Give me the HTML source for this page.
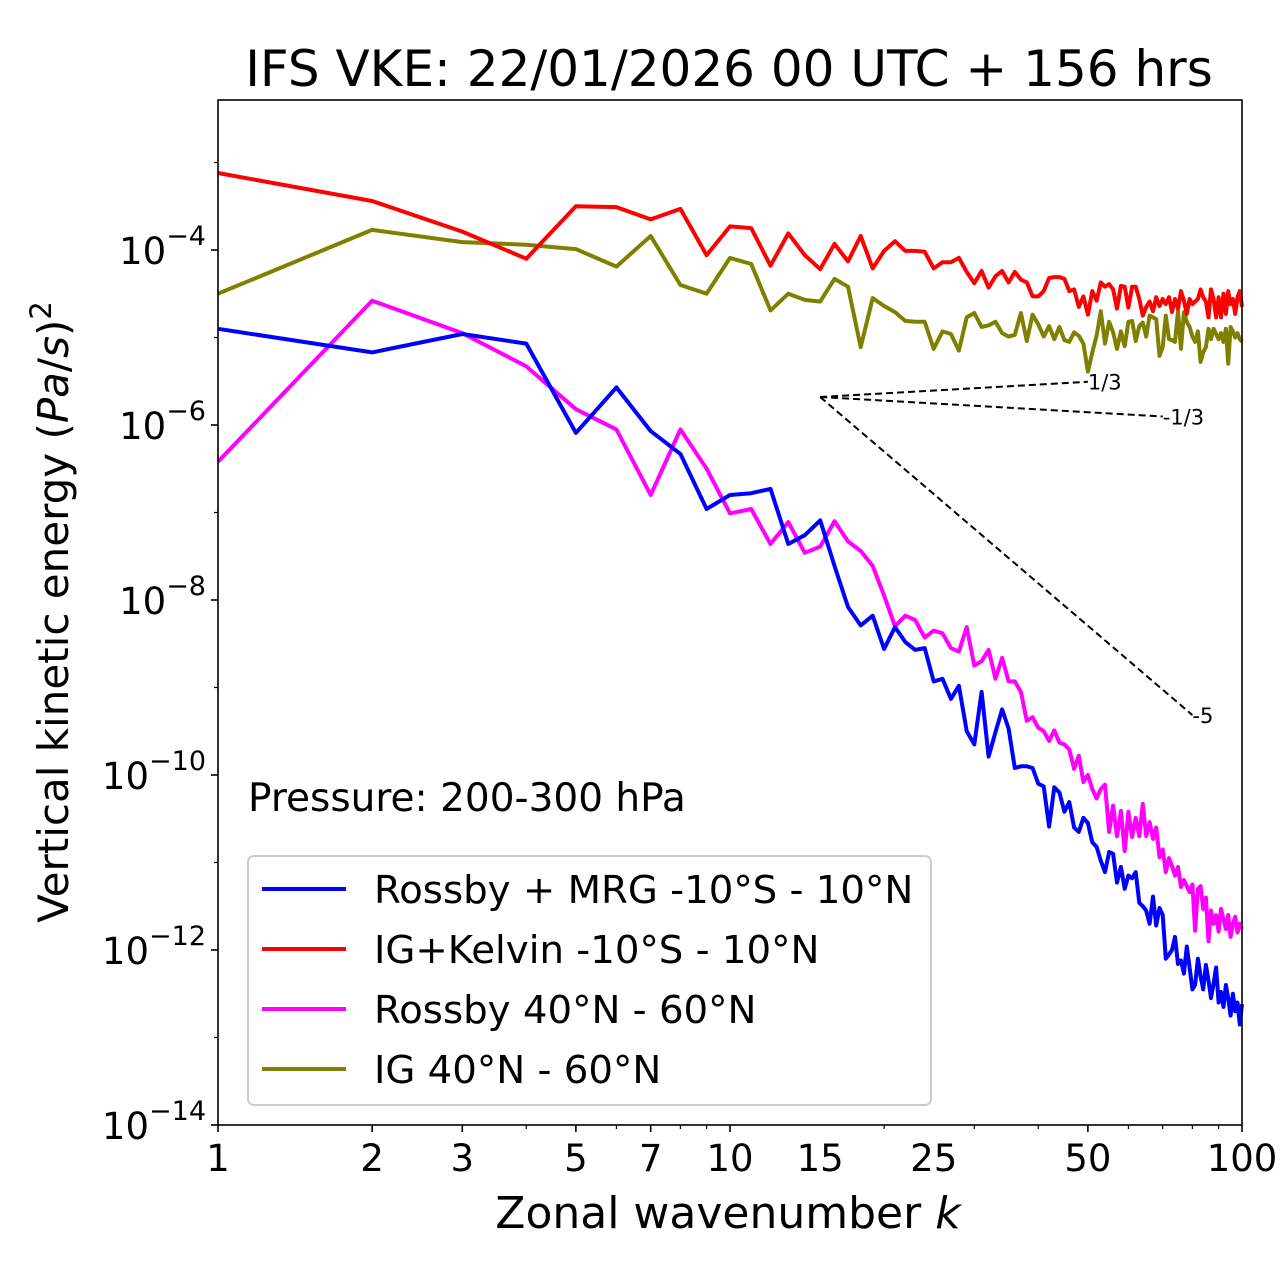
<!DOCTYPE html>
<html><head><meta charset="utf-8"><style>
html,body{margin:0;padding:0;background:#fff;}
svg{display:block;font-family:"DejaVu Sans","Liberation Sans",sans-serif;}
</style></head><body>
<svg id="chart" width="1280" height="1288" viewBox="0 0 1280 1288" xmlns="http://www.w3.org/2000/svg">
<text x="729" y="86" font-size="50" text-anchor="middle">IFS VKE: 22/01/2026 00 UTC + 156 hrs</text>
<g id="ticks"></g>
<g id="series"></g>
<g id="reflines"></g>
<rect x="218" y="100" width="1024" height="1025" fill="none" stroke="#000" stroke-width="1.6"/>
<text x="728" y="1228" font-size="44" text-anchor="middle">Zonal wavenumber <tspan font-style="italic">k</tspan></text>
<text transform="translate(68,612) rotate(-90)" font-size="42" text-anchor="middle">Vertical kinetic energy (<tspan font-style="italic">Pa</tspan>/<tspan font-style="italic">s</tspan>)<tspan dy="-17" font-size="29">2</tspan></text>
<text x="248" y="811" font-size="39">Pressure: 200-300 hPa</text>
<g>
<rect x="248" y="856" width="683" height="249" rx="6" fill="#fff" fill-opacity="0.8" stroke="#ccc" stroke-width="2"/>
<line x1="262" y1="889" x2="346" y2="889" stroke="#0000ff" stroke-width="4"/>
<text x="374" y="903" font-size="38.7">Rossby + MRG -10°S - 10°N</text>
<line x1="262" y1="949" x2="346" y2="949" stroke="#ff0000" stroke-width="4"/>
<text x="374" y="963" font-size="38.7">IG+Kelvin -10°S - 10°N</text>
<line x1="262" y1="1009" x2="346" y2="1009" stroke="#ff00ff" stroke-width="4"/>
<text x="374" y="1023" font-size="38.7">Rossby 40°N - 60°N</text>
<line x1="262" y1="1069" x2="346" y2="1069" stroke="#808000" stroke-width="4"/>
<text x="374" y="1083" font-size="38.7">IG 40°N - 60°N</text>
</g>
</svg>
<script>
// log10 of vertical kinetic energy, k = 1..100
const redLog = [-3.12,-3.44,-3.79,-4.10,-3.50,-3.51,-3.65,-3.53,-4.06,-3.73,-3.75,-4.18,-3.81,-4.06,-4.22,
-3.93,-4.13,-3.84,-4.21,-4.01,-3.90,-4.01,-4.01,-4.02,-4.21,-4.14,-4.14,-4.09,-4.25,-4.38,-4.24,-4.43,-4.30,-4.24,-4.37,-4.25,-4.34,-4.37,-4.53,-4.53,-4.47,-4.32,-4.31,-4.31,-4.33,-4.47,-4.45,-4.65,-4.53,-4.74,-4.47,-4.58,-4.37,-4.42,-4.39,-4.45,-4.67,-4.41,-4.42,-4.66,-4.42,-4.42,-4.56,-4.75,-4.65,-4.59,-4.70,-4.54,-4.64,-4.56,
-4.62,-4.54,-4.71,-4.56,-4.67,-4.47,-4.58,-4.73,-4.56,-4.62,-4.59,-4.56,-4.45,-4.54,-4.59,-4.77,-4.45,-4.56,-4.77,-4.54,-4.77,-4.50,-4.73,-4.47,-4.62,-4.56,-4.73,-4.54,-4.47,-4.65];
const oliveLog = [-4.50,-3.77,-3.91,-3.94,-3.99,-4.19,-3.84,-4.40,-4.50,-4.09,-4.16,-4.69,-4.50,-4.57,-4.59,
-4.33,-4.42,-5.11,-4.55,-4.64,-4.71,-4.81,-4.82,-4.82,-5.13,-4.93,-4.96,-5.15,-4.77,-4.72,-4.88,-4.86,-4.82,-4.95,-4.99,-4.97,-4.72,-5.04,-4.74,-4.85,-4.99,-4.87,-5.02,-4.88,-5.03,-5.05,-4.94,-4.98,-5.07,-5.39,-5.17,-4.98,-4.70,-5.07,-4.82,-4.94,-5.13,-4.93,-5.10,-4.82,-4.81,-5.04,-4.87,-4.83,-4.99,-4.75,-4.77,-4.79,-5.21,-5.11,-4.75,-5.02,-5.03,-5.05,-4.70,-5.13,-4.71,-4.82,-4.88,-4.99,-5.05,-4.93,-5.28,-5.17,-5.11,-4.90,-5.02,-4.90,-4.96,-5.02,
-4.95,-5.05,-4.90,-5.30,-4.88,-4.93,-5.00,-4.95,-5.02,-5.05];
const blueLog = [-4.90,-5.17,-4.96,-5.07,-6.09,-5.57,-6.07,-6.33,-6.96,-6.80,-6.78,-6.73,-7.36,-7.26,-7.09,
-7.61,-8.08,-8.29,-8.18,-8.56,-8.31,-8.48,-8.57,-8.55,-8.93,-8.90,-9.13,-8.98,-9.50,-9.65,-9.05,-9.79,-9.51,-9.25,-9.47,-9.92,-9.90,-9.90,-9.92,-10.10,-10.13,-10.59,-10.14,-10.20,-10.42,-10.31,-10.60,-10.65,-10.49,
-10.55,-10.77,-10.82,-10.98,-11.11,-10.88,-10.90,-11.23,-11.05,-11.30,-11.15,-11.18,-11.11,-11.46,-11.50,-11.55,-11.70,-11.39,-11.72,-11.52,-11.60,-12.10,-12.05,-12.00,-11.85,-12.16,-12.12,-12.27,-11.96,-12.20,-12.45,-12.40,-12.10,-12.30,-12.45,-12.17,-12.35,-12.55,-12.38,-12.20,-12.60,-12.48,-12.65,-12.40,-12.55,-12.75,-12.50,-12.70,-12.60,-12.85,-12.62];
const magentaLog = [-6.42,-4.58,-4.95,-5.33,-5.82,-6.05,-6.80,-6.05,-6.50,-7.01,-6.96,-7.36,-7.11,-7.46,-7.39,
-7.10,-7.33,-7.44,-7.61,-7.95,-8.30,-8.18,-8.23,-8.43,-8.35,-8.38,-8.55,-8.59,-8.31,-8.75,-8.70,-8.57,-8.90,-8.66,-8.93,-8.93,-9.05,-9.38,-9.34,-9.46,-9.50,-9.61,-9.49,-9.63,-9.65,-9.71,-9.93,-9.78,-10.08,-10.00,
-10.16,-10.27,-10.16,-10.11,-10.65,-10.35,-10.70,-10.41,-10.87,-10.42,-10.71,-10.49,-10.70,-10.33,-10.70,-10.54,-10.73,-10.60,-10.94,-10.85,-11.11,-10.95,-11.04,-11.15,-11.05,-11.28,-11.20,-11.27,-11.34,-11.25,-11.78,-11.30,-11.27,-11.53,-11.40,-11.90,-11.55,-11.70,-11.60,-11.79,-11.53,-11.65,-11.76,-11.60,-11.85,-11.70,-11.62,-11.80,-11.70,-11.76];
const xTickLabels = [1,2,3,5,7,10,15,25,50,100];
const yTickExps = [-4,-6,-8,-10,-12,-14];
const refK0 = 15;
const refLog0 = -5.68;
const refSlopes = [1/3, -1/3, -5];
const refKEnd = [50, 70, 80];
const refLabels = ["1/3", "-1/3", "-5"];

const NS = "http://www.w3.org/2000/svg";
const X0 = 218, XW = 1024, YTOP = 100, YBOT = 1125;
const LMAX = -14 + (YBOT - YTOP) / 87.5;
function xs(k){ return X0 + Math.log10(k) / 2 * XW; }
function ys(l){ return YTOP + (LMAX - l) * 87.5; }
function mk(tag, attrs, parent){ const e = document.createElementNS(NS, tag); for (const a in attrs) e.setAttribute(a, attrs[a]); parent.appendChild(e); return e; }

const ticks = document.getElementById('ticks');
for (let k = 1; k <= 100; k++) {
  const d = Math.floor(Math.log10(k + 1e-9)); const m = k / Math.pow(10, d);
  if (Number.isInteger(m) || k === 100) {
    const major = xTickLabels.includes(k);
    const t = mk('line', {x1: xs(k), x2: xs(k), y1: YBOT, y2: YBOT + (major ? 7 : 4), stroke: '#000', 'stroke-width': major ? 1.6 : 1.2}, ticks);
    
    
  }
}
xTickLabels.forEach(k => {
  const t = mk('text', {x: xs(k), y: YBOT + 46, 'font-size': 37, 'text-anchor': 'middle'}, ticks);
  t.textContent = k;
  
  
});
for (let e = -14; e <= -3; e++) {
  const major = yTickExps.includes(e);
  const t = mk('line', {x1: X0 - (major ? 7 : 4), x2: X0, y1: ys(e), y2: ys(e), stroke: '#000', 'stroke-width': major ? 1.6 : 1.2}, ticks);
  
  
}
yTickExps.forEach(e => {
  const t = mk('text', {x: X0 - 12, y: ys(e) + 14, 'font-size': 37, 'text-anchor': 'end'}, ticks);
  
  
  const a = mk('tspan', {}, t); a.textContent = '10';
  const b = mk('tspan', {dy: -19, 'font-size': 27}, t); b.textContent = '\u2212' + Math.abs(e);
});

const series = document.getElementById('series');
const defs = [[magentaLog, '#ff00ff', 'series-rossby-midlat'], [oliveLog, '#808000', 'series-ig-midlat'], [blueLog, '#0000ff', 'series-rossby-mrg'], [redLog, '#ff0000', 'series-ig-kelvin']];
defs.forEach(([arr, col, name]) => {
  const pts = arr.map((v, i) => xs(i + 1).toFixed(1) + ',' + ys(v).toFixed(1)).join(' ');
  const p = mk('polyline', {points: pts, fill: 'none', stroke: col, 'stroke-width': 4, 'stroke-linejoin': 'round'}, series);
  
  
});

const refs = document.getElementById('reflines');
refSlopes.forEach((s, i) => {
  const k1 = refKEnd[i];
  const l1 = refLog0 + s * Math.log10(k1 / refK0);
  const ln = mk('line', {x1: xs(refK0), y1: ys(refLog0), x2: xs(k1), y2: ys(l1), stroke: '#000', 'stroke-width': 2, 'stroke-dasharray': '7,4'}, refs);
  
  
  const t = mk('text', {x: xs(k1), y: ys(l1) + 8, 'font-size': 21}, refs);
  t.textContent = refLabels[i];
  
  
});
</script>
</body></html>
